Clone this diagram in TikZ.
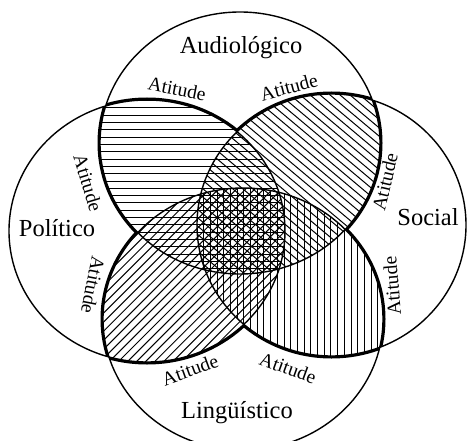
\documentclass[tikz,border=0pt]{standalone}
\usepackage{fontspec}
\setmainfont{Liberation Serif}
\usetikzlibrary{calc}
\tikzset{
  thincirc/.style={line width=1.4pt},
  hatch/.style={line width=1pt},
  lensoutline/.style={line width=5pt, line join=round},
  biglabel/.style={font=\fontsize{24.5}{28}\selectfont, inner sep=0pt},
  att/.style={font=\fontsize{19.5}{22}\selectfont, inner sep=0pt},
}
\newcommand\ET{(240,297) ellipse [x radius=140pt, y radius=131pt]}
\newcommand\EL{(147,209) ellipse [x radius=138pt, y radius=131pt]}
\newcommand\ER{(331.5,215) ellipse [x radius=134.5pt, y radius=131pt]}
\newcommand\EB{(243,121) ellipse [x radius=140pt, y radius=131pt]}
\begin{document}
\begin{tikzpicture}[x=1pt,y=1pt]
\useasboundingbox (0,0) rectangle (468,440);
% thick outlines of the four lenses
\begin{scope}\clip \ET; \draw[lensoutline] \EL; \end{scope}
\begin{scope}\clip \EL; \draw[lensoutline] \ET; \end{scope}
\begin{scope}\clip \ET; \draw[lensoutline] \ER; \end{scope}
\begin{scope}\clip \ER; \draw[lensoutline] \ET; \end{scope}
\begin{scope}\clip \EB; \draw[lensoutline] \EL; \end{scope}
\begin{scope}\clip \EL; \draw[lensoutline] \EB; \end{scope}
\begin{scope}\clip \EB; \draw[lensoutline] \ER; \end{scope}
\begin{scope}\clip \ER; \draw[lensoutline] \EB; \end{scope}
% white interiors of the lenses
\begin{scope}\clip \ET; \fill[white] \EL; \end{scope}
\begin{scope}\clip \ET; \fill[white] \ER; \end{scope}
\begin{scope}\clip \EB; \fill[white] \EL; \end{scope}
\begin{scope}\clip \EB; \fill[white] \ER; \end{scope}
% hatching: top-left lens, horizontal
\begin{scope}\clip \ET; \clip \EL;
  \foreach \k in {0,...,45} \draw[hatch] (0,{40+\k*7.3}) -- (468,{40+\k*7.3});
\end{scope}
% top-right lens, falling diagonal
\begin{scope}\clip \ET; \clip \ER;
  \begin{scope}[rotate around={-40:(300,270)}]
  \foreach \k in {-45,...,45} \draw[hatch] (0,{270+\k*6.4}) -- (600,{270+\k*6.4});
  \end{scope}
\end{scope}
% bottom-left lens, rising diagonal
\begin{scope}\clip \EB; \clip \EL;
  \begin{scope}[rotate around={45:(190,150)}]
  \foreach \k in {-45,...,45} \draw[hatch] (-110,{150+\k*6.4}) -- (490,{150+\k*6.4});
  \end{scope}
\end{scope}
% bottom-right lens, vertical
\begin{scope}\clip \EB; \clip \ER;
  \foreach \k in {0,...,50} \draw[hatch] ({150+\k*6.7},0) -- ({150+\k*6.7},440);
\end{scope}
% the four circles
\draw[thincirc] \ET;
\draw[thincirc] \EL;
\draw[thincirc] \ER;
\draw[thincirc] \EB;
% labels
\node[biglabel] (aud) at (241,392) {Audiológico};
\node[biglabel] (pol) at (57,212) {Político};
\node[biglabel] (soc) at (428,223) {Social};
\node[biglabel] (lin) at (237,27) {Lingüístico};
\node[att, rotate=-11] (a1) at (177,351) {Atitude};
\node[att, rotate=15] (a2) at (289,353) {Atitude};
\node[att, rotate=-73] (a3) at (88,257) {Atitude};
\node[att, rotate=-101] (a4) at (93,155) {Atitude};
\node[att, rotate=77] (a5) at (385,258) {Atitude};
\node[att, rotate=95] (a6) at (392,154) {Atitude};
\node[att, rotate=20] (a7) at (190,70) {Atitude};
\node[att, rotate=-20] (a8) at (288,72) {Atitude};
\end{tikzpicture}
\end{document}
